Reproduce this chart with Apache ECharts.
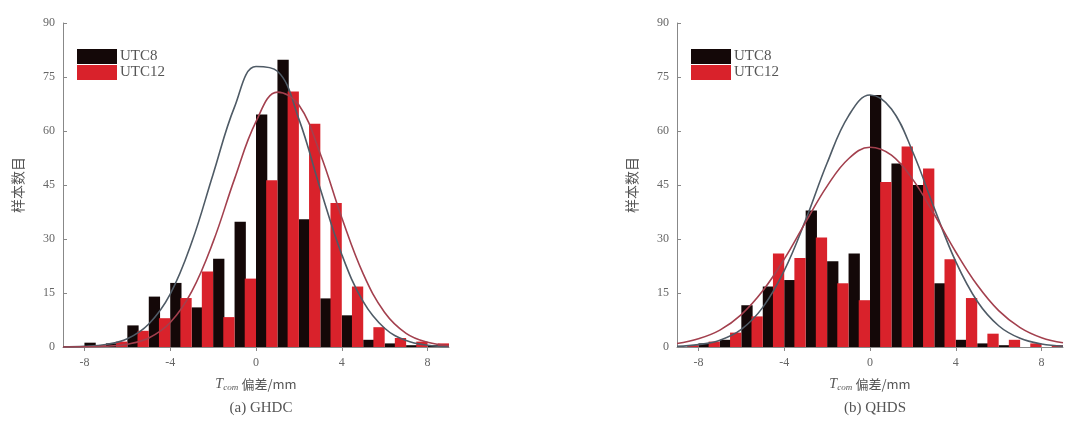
<!DOCTYPE html>
<html>
<head>
<meta charset="utf-8">
<script src="https://cdn.jsdelivr.net/npm/echarts@6/dist/echarts.min.js"></script>
<style>
html,body{margin:0;padding:0;background:#fff;}
#c{width:1065px;height:422px;}
</style>
</head>
<body>
<div id="c"></div>
<script>
// ---- data ----
const binStarts = [-9,-8,-7,-6,-5,-4,-3,-2,-1,0,1,2,3,4,5,6,7,8];
const seriesNames = ['UTC8', 'UTC12'];
// (a) GHDC histogram counts per 1 mm bin
const ghdcUTC8  = [0, 1.2, 1, 6, 14, 17.8, 11, 24.5, 34.8, 64.6, 79.8, 35.5, 13.5, 8.8, 2, 1, 0.5, 0.5];
const ghdcUTC12 = [0, 0.5, 1.5, 4.5, 8, 13.6, 21, 8.3, 19, 46.3, 71, 62, 40, 16.8, 5.5, 2.5, 1.5, 1];
// (b) QHDS histogram counts per 1 mm bin
const qhdsUTC8  = [0, 1, 2, 11.6, 16.8, 18.6, 37.9, 23.8, 26, 70, 51, 45, 17.7, 2, 1, 0.5, 0, 0];
const qhdsUTC12 = [0.5, 1.5, 4, 8.5, 26, 24.7, 30.4, 17.7, 13, 45.8, 55.7, 49.6, 24.4, 13.6, 3.7, 2, 1, 0.5];
// fitted curves
const curveX = [-9,-8,-7,-6,-5,-4,-3,-2,-1,0,1,2,3,4,5,6,7,8,9];
const ghdcFitUTC8  = [0.04,0.17,0.7,2.3,6.4,14.7,29,48,66.7,77.9,76.6,63.3,43.9,25.7,12.6,5.2,1.8,0.5,0.13];
const ghdcFitUTC12 = [0,0.05,0.2,0.8,2.5,6.8,15.4,29.2,46.7,62.6,70.8,67.2,53.6,35.9,20.3,9.6,3.8,1.3,0.36];
const qhdsFitUTC8  = [0.19,0.66,1.9,4.9,11,21.2,35.3,51.1,64.2,70,66.1,54.1,38.5,23.7,12.7,5.9,2.4,0.83,0.25];
const qhdsFitUTC12 = [0.98,2.3,4.7,9,15.6,24.4,34.7,44.7,52.3,55.5,53.3,46.5,36.8,26.4,17.2,10.1,5.4,2.6,1.2];
const xTickValues = [-8,-4,0,4,8];
const yMin = 0, yMax = 90, yInterval = 15;
const xLabel = '偏差/mm';
const yLabel = '样本数目';
const panelTitles = ['(a) GHDC', '(b) QHDS'];

// ---- style ----
const C_BLACK = '#140808';
const C_RED = '#d9222b';
const C_FIT_BLACK = '#4f5b66';
const C_FIT_RED = '#a3404e';
const serif = 'Liberation Serif';
const cjk = 'Noto Sans CJK SC';

const grids = [
  {left: 63, top: 23, width: 386, height: 324},
  {left: 677, top: 23, width: 386, height: 324}
];

function pairs(xs, ys){ return xs.map((x,i)=>[x, ys[i]]); }

const xAxes = [], yAxes = [], series = [], titles = [], legends = [];
const panels = [
  {b8: ghdcUTC8, b12: ghdcUTC12, f8: ghdcFitUTC8, f12: ghdcFitUTC12},
  {b8: qhdsUTC8, b12: qhdsUTC12, f8: qhdsFitUTC8, f12: qhdsFitUTC12}
];
panels.forEach((p, gi) => {
  // hidden category axis for bins
  xAxes.push({
    type: 'category', gridIndex: gi, position: 'bottom', data: binStarts.map(String), boundaryGap: true,
    show: false
  });
  // visible value axis
  xAxes.push({
    type: 'value', gridIndex: gi, position: 'bottom', offset: 0, min: -9, max: 9,
    name: '{i|T}{s|com} {n|' + xLabel + '}',
    nameLocation: 'middle', nameGap: 30,
    nameTextStyle: {
      rich: {
        i: {fontFamily: serif, fontStyle: 'italic', fontSize: 14, color: '#555'},
        s: {fontFamily: serif, fontStyle: 'italic', fontSize: 9, color: '#555', verticalAlign: 'bottom', padding: [6,0,0,0]},
        n: {fontFamily: cjk, fontSize: 13, color: '#555'}
      }
    },
    splitLine: {show: false},
    axisLine: {show: true, onZero: false, lineStyle: {color: '#888', width: 1}},
    axisTick: {show: true, inside: false, length: 4, customValues: xTickValues, lineStyle: {color: '#888'}},
    axisLabel: {customValues: xTickValues, fontFamily: serif, fontSize: 12, color: '#666', margin: 10}
  });
  yAxes.push({
    type: 'value', gridIndex: gi, position: 'left', min: yMin, max: yMax, interval: yInterval,
    name: yLabel, nameLocation: 'middle', nameGap: 38, nameRotate: 90,
    nameTextStyle: {fontFamily: cjk, fontSize: 14, color: '#555'},
    splitLine: {show: false},
    axisLine: {show: true, onZero: false, lineStyle: {color: '#888', width: 1}},
    axisTick: {show: true, inside: true, length: 4, lineStyle: {color: '#888'}},
    axisLabel: {fontFamily: serif, fontSize: 12, color: '#666', margin: 8}
  });
  const catIdx = gi * 2, valIdx = gi * 2 + 1;
  series.push({
    name: seriesNames[0], type: 'bar', xAxisIndex: catIdx, yAxisIndex: gi,
    data: p.b8, barCategoryGap: '0%', barGap: '-10%',
    itemStyle: {color: C_BLACK}, z: 2
  });
  series.push({
    name: seriesNames[1], type: 'bar', xAxisIndex: catIdx, yAxisIndex: gi,
    data: p.b12, barCategoryGap: '0%', barGap: '-10%',
    itemStyle: {color: C_RED}, z: 3
  });
  series.push({
    name: 'fit8_' + gi, type: 'line', xAxisIndex: valIdx, yAxisIndex: gi,
    data: pairs(curveX, p.f8), smooth: 0.4, showSymbol: false,
    lineStyle: {color: C_FIT_BLACK, width: 1.6}, z: 5
  });
  series.push({
    name: 'fit12_' + gi, type: 'line', xAxisIndex: valIdx, yAxisIndex: gi,
    data: pairs(curveX, p.f12), smooth: 0.4, showSymbol: false,
    lineStyle: {color: C_FIT_RED, width: 1.6}, z: 5
  });
  titles.push({
    text: panelTitles[gi], left: grids[gi].left + grids[gi].width / 2, top: 396,
    textAlign: 'center',
    textStyle: {fontFamily: serif, fontSize: 15, fontWeight: 'normal', color: '#555'}
  });
  legends.push({
    data: seriesNames, orient: 'vertical', left: grids[gi].left + 9, top: 44,
    itemWidth: 40, itemHeight: 15, itemGap: 1, icon: 'rect',
    textStyle: {fontFamily: serif, fontSize: 15, color: '#555', padding: [0,0,0,-2]}
  });
});

const chart = echarts.init(document.getElementById('c'), null, {renderer: 'canvas'});
chart.setOption({
  animation: false,
  backgroundColor: '#fff',
  title: titles,
  legend: legends,
  grid: grids,
  xAxis: xAxes,
  yAxis: yAxes,
  series: series
});
</script>
</body>
</html>
